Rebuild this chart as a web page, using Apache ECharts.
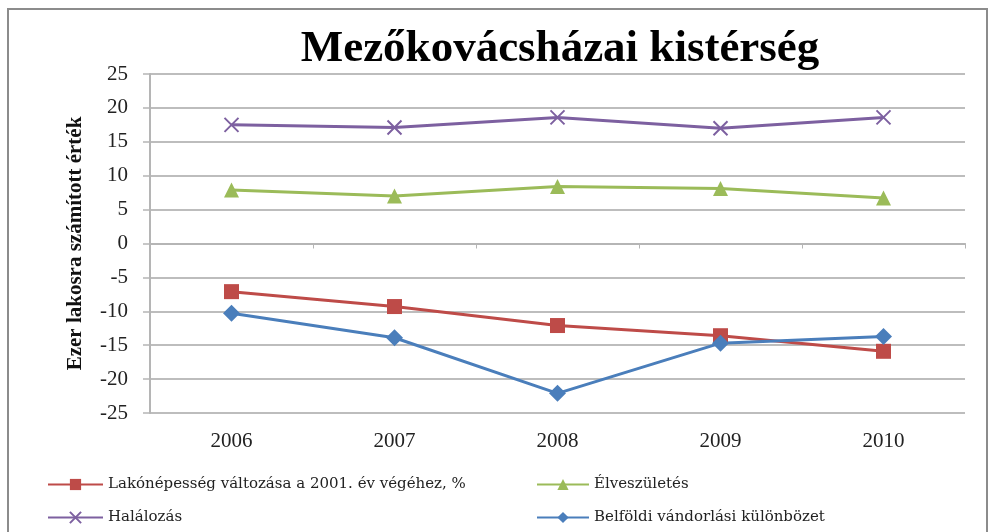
<!DOCTYPE html>
<html>
<head>
<meta charset="utf-8">
<script src="https://cdn.jsdelivr.net/npm/echarts@6/dist/echarts.min.js"></script>
<style>
html,body{margin:0;padding:0;background:#fff;}
#main{width:990px;height:532px;}
</style>
</head>
<body>
<div id="main"></div>
<script>
const years = ['2006', '2007', '2008', '2009', '2010'];
const lakonepesseg = [-7.1, -9.3, -12.1, -13.6, -15.9];
const elveszuletes = [7.9, 7.0, 8.4, 8.1, 6.7];
const halalozas = [17.5, 17.1, 18.6, 17.0, 18.6];
const belfoldi = [-10.3, -13.9, -22.1, -14.7, -13.7];
const yTicks = [25, 20, 15, 10, 5, 0, -5, -10, -15, -20, -25];

const names = [
  'Lakónépesség változása a 2001. év végéhez, %',
  'Élveszületés',
  'Halálozás',
  'Belföldi vándorlási különbözet'
];
const colors = ['#BE4B48', '#9BBB59', '#7D60A0', '#4A7EBB'];
const serif = '"Liberation Serif", "Times New Roman", serif';
const legendFont = '"DejaVu Serif", serif';

const chart = echarts.init(document.getElementById('main'), null, {renderer: 'canvas'});

function mk(name, data, color, symbol, size, extra) {
  return Object.assign({
    name: name,
    type: 'line',
    xAxisIndex: 0,
    data: data,
    symbol: symbol,
    symbolSize: size,
    lineStyle: {color: color, width: 3},
    itemStyle: {color: color},
    animation: false
  }, extra || {});
}

const legendText = {fontFamily: legendFont, fontSize: 15, color: '#222'};

chart.setOption({
  backgroundColor: '#fff',
  animation: false,
  graphic: [{
    type: 'rect',
    shape: {x: 8, y: 9, width: 979, height: 560},
    style: {fill: 'none', stroke: '#8c8c8c', lineWidth: 2}
  }],
  title: {
    text: 'Mezőkovácsházai kistérség',
    left: 555,
    top: 22,
    textAlign: 'center',
    textStyle: {fontFamily: serif, fontSize: 45, fontWeight: 'bold', color: '#000'}
  },
  legend: [{
    data: [names[0], names[2]],
    orient: 'vertical',
    left: 42,
    top: 472,
    itemGap: 18,
    itemWidth: 55,
    itemHeight: 14,
    textStyle: legendText
  }, {
    data: [names[1], names[3]],
    orient: 'vertical',
    left: 531,
    top: 472,
    itemGap: 18,
    itemWidth: 52,
    itemHeight: 14,
    textStyle: legendText
  }],
  grid: {left: 150, right: 25, top: 74, bottom: 119},
  xAxis: [{
    type: 'category',
    data: years,
    position: 'bottom',
    boundaryGap: true,
    axisLine: {show: false, onZero: false},
    axisTick: {show: false},
    axisLabel: {fontFamily: serif, fontSize: 21, color: '#222', margin: 18},
    splitLine: {show: false}
  }, {
    type: 'category',
    data: years,
    position: 'bottom',
    boundaryGap: true,
    axisLine: {show: true, onZero: true, lineStyle: {color: '#b5b5b5', width: 2}},
    axisTick: {show: true, length: 5, lineStyle: {color: '#b5b5b5', width: 1}},
    axisLabel: {show: false},
    splitLine: {show: false}
  }],
  yAxis: {
    type: 'value',
    min: -25,
    max: 25,
    interval: 5,
    name: 'Ezer lakosra számított érték',
    nameLocation: 'middle',
    nameGap: 64,
    nameRotate: 90,
    nameTextStyle: {fontFamily: serif, fontSize: 21, fontWeight: 'bold', color: '#111'},
    axisLine: {show: true, lineStyle: {color: '#b5b5b5', width: 2}},
    axisTick: {show: true, length: 7, lineStyle: {color: '#b5b5b5', width: 1.5}},
    axisLabel: {
      fontFamily: serif, fontSize: 21, color: '#222', margin: 22,
      formatter: function (v) { return yTicks.indexOf(v) >= 0 ? String(v) : ''; }
    },
    splitLine: {show: true, lineStyle: {color: '#bdbdbd', width: 2}}
  },
  series: [
    mk(names[0], lakonepesseg, colors[0], 'rect', 15),
    mk(names[1], elveszuletes, colors[1], 'triangle', 15),
    mk(names[2], halalozas, colors[2], 'path://M0,0L10,10M10,0L0,10', 14,
       {itemStyle: {color: colors[2], borderColor: colors[2], borderWidth: 2}}),
    mk(names[3], belfoldi, colors[3], 'diamond', 17)
  ]
});
</script>
</body>
</html>
